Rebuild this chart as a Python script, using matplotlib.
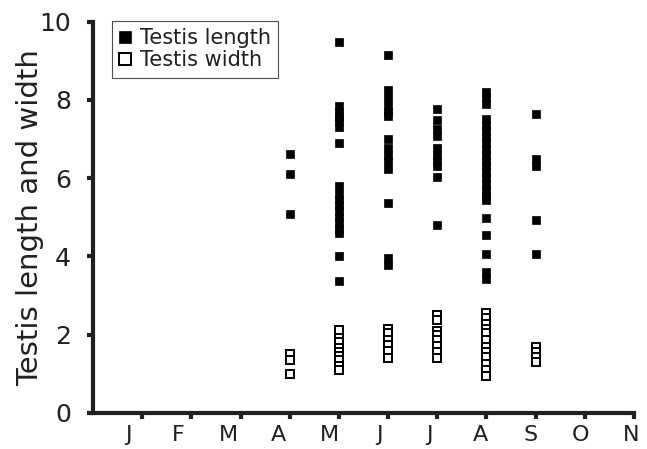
import numpy as np
import matplotlib
matplotlib.use("Agg")
import matplotlib.pyplot as plt
from matplotlib.transforms import ScaledTranslation

MONTHS = ["J", "F", "M", "A", "M", "J", "J", "A", "S", "O", "N"]

# testis length by month index (Apr=4 ... Sep=9)
len_apr = [6.62, 6.11, 5.07]
len_may = [9.47, 7.85, 7.7, 7.55, 7.45, 7.3, 6.9, 5.8, 5.6, 5.45, 5.3,
           5.15, 5.0, 4.85, 4.7, 4.6, 4.0, 3.37]
len_jun = [9.15, 8.26, 8.05, 7.85, 7.7, 7.6, 7.01, 6.76, 6.6, 6.45, 6.22,
           5.36, 3.95, 3.78]
len_jul = [7.77, 7.49, 7.25, 7.08, 6.77, 6.6, 6.45, 6.3, 6.03, 4.81]
len_aug = [8.2, 8.05, 7.9, 7.5, 7.35, 7.2, 7.05, 6.9, 6.75, 6.6, 6.45, 6.3,
           6.15, 6.0, 5.85, 5.7, 5.55, 5.45, 4.99, 4.54, 4.07, 3.6, 3.42]
len_sep = [7.63, 6.48, 6.3, 4.94, 4.05]

# testis width
wid_apr = [1.5, 1.35, 0.98]
wid_may = [2.11, 1.92, 1.82, 1.66, 1.55, 1.45, 1.35, 1.2, 1.1]
wid_jun = [2.15, 2.05, 1.85, 1.73, 1.58, 1.4]
wid_jul = [2.49, 2.37, 2.09, 2.0, 1.87, 1.71, 1.56, 1.4]
wid_aug = [2.54, 2.41, 2.26, 2.15, 2.03, 1.86, 1.69, 1.56, 1.43, 1.24,
           1.09, 0.94]
wid_sep = [1.69, 1.56, 1.43, 1.29]

length = {4: len_apr, 5: len_may, 6: len_jun, 7: len_jul, 8: len_aug, 9: len_sep}
width = {4: wid_apr, 5: wid_may, 6: wid_jun, 7: wid_jul, 8: wid_aug, 9: wid_sep}

INK = "#231f20"

fig = plt.figure(figsize=(6.47, 4.49), dpi=100)
ax = fig.add_axes([93 / 647, 1 - 412.7 / 449, (634 - 93) / 647, (412.7 - 21.7) / 449])

lx = np.concatenate([[m] * len(v) for m, v in length.items()])
ly = np.concatenate(list(length.values()))
wx = np.concatenate([[m] * len(v) for m, v in width.items()])
wy = np.concatenate(list(width.values()))

ax.plot(lx, ly, ls="none", marker="s", ms=5.2, mfc="black", mec="black",
        mew=0.5, label="Testis length", clip_on=False)
ax.plot(wx, wy, ls="none", marker="s", ms=5.2, mfc="white", mec="black",
        mew=1.4, label="Testis width", clip_on=False)

ax.set_xlim(0, 11)
ax.set_ylim(0, 10)
ax.set_xticks(range(1, 12))
ax.set_xticklabels(MONTHS)
ax.set_yticks([0, 2, 4, 6, 8, 10])

for s in ["top", "right"]:
    ax.spines[s].set_visible(False)
for s in ["left", "bottom"]:
    ax.spines[s].set_linewidth(3)
    ax.spines[s].set_color(INK)
    ax.spines[s].set_capstyle("projecting")

ax.tick_params(axis="both", direction="out", length=4, width=3, color=INK,
               labelcolor=INK)
ax.tick_params(axis="x", pad=5, labelsize=16)
ax.tick_params(axis="y", pad=12, labelsize=18)

# month labels sit a little left of their ticks
for i, lab in enumerate(ax.get_xticklabels(), start=1):
    dx = (-15.2 + 1.1 * i) / 100
    lab.set_transform(lab.get_transform() + ScaledTranslation(dx, 0, fig.dpi_scale_trans))

ax.set_ylabel("Testis length and width", fontsize=21, color=INK, labelpad=-4)

leg = ax.legend(loc="upper left", bbox_to_anchor=(0.035, 1.003), fontsize=15,
                frameon=True, fancybox=False, handlelength=0.6,
                handletextpad=0.4, borderpad=0.35, labelspacing=0.12,
                markerscale=1.6, borderaxespad=0)
leg.get_frame().set_edgecolor(INK)
leg.get_frame().set_linewidth(0.8)
for t in leg.get_texts():
    t.set_color(INK)

fig.savefig("out.png", dpi=100)
